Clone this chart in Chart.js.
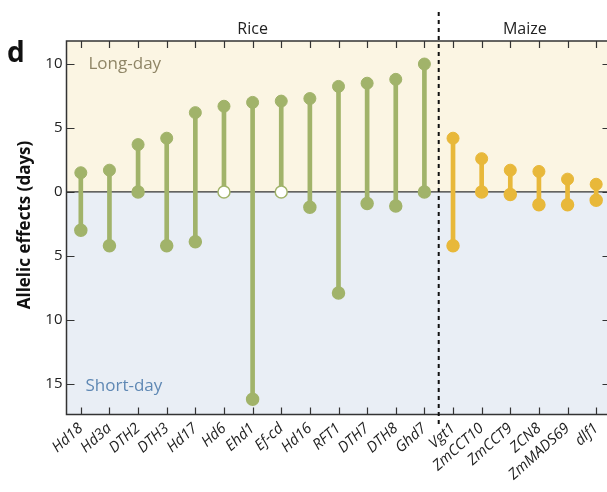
<!DOCTYPE html>
<html>
<head>
<meta charset="utf-8">
<script src="https://cdn.jsdelivr.net/npm/chart.js@4.4.1/dist/chart.umd.min.js"></script>
<style>
  html, body { margin: 0; padding: 0; background: #ffffff; overflow: hidden; }
  #wrap { width: 618px; height: 492px; position: relative; }
  canvas { display: block; }
</style>
</head>
<body>
<div id="wrap"><canvas id="c" width="618" height="492" style="width:618px;height:492px"></canvas></div>
<script>
// ---- data ----
const riceGenes = ['Hd18', 'Hd3a', 'DTH2', 'DTH3', 'Hd17', 'Hd6', 'Ehd1', 'Ef-cd', 'Hd16', 'RFT1', 'DTH7', 'DTH8', 'Ghd7'];
const maizeGenes = ['Vgt1', 'ZmCCT10', 'ZmCCT9', 'ZCN8', 'ZmMADS69', 'dlf1'];
const genes = riceGenes.concat(maizeGenes);
// allelic effect under long-day (positive) and short-day (negative, plotted downward)
const longDayEffect = [1.5, 1.7, 3.7, 4.2, 6.2, 6.7, 7.0, 7.1, 7.3, 8.25, 8.5, 8.8, 10.0, 4.2, 2.6, 1.7, 1.6, 1.0, 0.6];
const shortDayEffect = [-3.0, -4.2, 0, -4.2, -3.9, 0, -16.2, 0, -1.2, -7.9, -0.9, -1.1, 0, -4.2, 0, -0.2, -1.0, -1.0, -0.65];
const openAtZero = ['Hd6', 'Ef-cd'];
const yTickValues = [10, 5, 0, -5, -10, -15];
const groupLabels = ['Rice', 'Maize'];
const regionLabels = ['Long-day', 'Short-day'];

// ---- styles ----
const GREEN = '#a1b36a';
const YELLOW = '#e8b83a';
const colorFor = g => riceGenes.includes(g) ? GREEN : YELLOW;
const colors = genes.map(colorFor);
const FONT = '"Open Sans", "Noto Sans", sans-serif';

const decor = {
  id: 'decor',
  beforeDatasetsDraw(chart) {
    const { ctx, chartArea: a, scales: { x, y } } = chart;
    const y0 = y.getPixelForValue(0);
    ctx.save();
    ctx.fillStyle = '#fbf5e3';
    ctx.fillRect(a.left, a.top, a.right - a.left, y0 - a.top);
    ctx.fillStyle = '#e9eef5';
    ctx.fillRect(a.left, y0, a.right - a.left, a.bottom - y0);
    ctx.strokeStyle = '#333';
    ctx.lineWidth = 1.2;
    ctx.beginPath(); ctx.moveTo(a.left, y0); ctx.lineTo(a.right, y0); ctx.stroke();
    ctx.font = '17px ' + FONT;
    ctx.textBaseline = 'middle';
    ctx.textAlign = 'left';
    ctx.fillStyle = '#8f8566';
    ctx.fillText(regionLabels[0], a.left + 22, y.getPixelForValue(10));
    ctx.fillStyle = '#5f88b4';
    ctx.fillText(regionLabels[1], a.left + 19, y.getPixelForValue(-15.2));
    ctx.restore();
  },
  afterDraw(chart) {
    const { ctx, chartArea: a, scales: { x, y } } = chart;
    ctx.save();
    ctx.strokeStyle = '#333';
    ctx.lineWidth = 1.2;
    ctx.beginPath();
    genes.forEach((g, i) => {
      const px = Math.round(x.getPixelForValue(i)) + 0.5;
      ctx.moveTo(px, a.top); ctx.lineTo(px, a.top + 7);
      ctx.moveTo(px, a.bottom); ctx.lineTo(px, a.bottom - 7);
    });
    yTickValues.forEach(v => {
      const py = Math.round(y.getPixelForValue(v)) + 0.5;
      ctx.moveTo(a.left, py); ctx.lineTo(a.left + 8, py);
      ctx.moveTo(a.right, py); ctx.lineTo(a.right - 8, py);
    });
    ctx.stroke();
    ctx.lineWidth = 1.5;
    ctx.strokeRect(a.left, a.top, a.right - a.left, a.bottom - a.top);
    const xd = (x.getPixelForValue(riceGenes.length - 1) + x.getPixelForValue(riceGenes.length)) / 2;
    ctx.strokeStyle = '#111';
    ctx.lineWidth = 2;
    ctx.setLineDash([4, 4]);
    ctx.beginPath(); ctx.moveTo(xd, 12); ctx.lineTo(xd, 427); ctx.stroke();
    ctx.setLineDash([]);
    ctx.fillStyle = '#222';
    ctx.font = '16px ' + FONT;
    ctx.textAlign = 'center';
    ctx.textBaseline = 'middle';
    ctx.fillText(groupLabels[0], (a.left + xd) / 2, 29);
    ctx.fillText(groupLabels[1], (xd + 607) / 2 + 2, 29);
    ctx.font = 'bold 28px ' + FONT;
    ctx.textAlign = 'left';
    ctx.fillStyle = '#111';
    ctx.fillText('d', 7, 54);
    ctx.translate(25, 225);
    ctx.rotate(-Math.PI / 2);
    ctx.font = 'bold 17px ' + FONT;
    ctx.textAlign = 'center';
    ctx.fillText('Allelic effects (days)', 0, 0);
    ctx.restore();
  }
};

new Chart(document.getElementById('c'), {
  type: 'bar',
  data: {
    labels: genes,
    datasets: [
      {
        type: 'bar',
        data: genes.map((g, i) => [shortDayEffect[i], longDayEffect[i]]),
        backgroundColor: colors,
        barThickness: 4,
        order: 3
      },
      {
        type: 'line',
        data: longDayEffect,
        showLine: false,
        pointRadius: 6,
        pointBackgroundColor: colors,
        pointBorderColor: colors,
        pointBorderWidth: 1,
        order: 1
      },
      {
        type: 'line',
        data: shortDayEffect,
        showLine: false,
        pointRadius: 6,
        pointBackgroundColor: genes.map((g, i) => openAtZero.includes(g) ? '#ffffff' : colors[i]),
        pointBorderColor: colors,
        pointBorderWidth: 1.5,
        order: 2
      }
    ]
  },
  options: {
    responsive: false,
    maintainAspectRatio: false,
    animation: false,
    devicePixelRatio: 1,
    layout: { padding: { top: 41, right: 0, left: 0, bottom: 0 } },
    plugins: { legend: { display: false }, tooltip: { enabled: false } },
    scales: {
      x: {
        offset: true,
        grid: { display: false, drawTicks: false },
        border: { display: false },
        ticks: {
          autoSkip: false,
          minRotation: 42,
          maxRotation: 42,
          padding: 5,
          color: '#222',
          font: { family: FONT, size: 15, style: 'italic' }
        },
        afterFit(s) { s.height = 492 - 414.5; }
      },
      y: {
        min: -17.4,
        max: 11.8,
        afterBuildTicks(s) { s.ticks = yTickValues.map(v => ({ value: v })); },
        grid: { display: false, drawTicks: false },
        border: { display: false },
        ticks: {
          padding: 4,
          color: '#222',
          font: { family: FONT, size: 15 },
          callback: v => String(Math.abs(v))
        },
        afterFit(s) { s.width = 66.5; }
      }
    }
  },
  plugins: [decor]
});
</script>
</body>
</html>
